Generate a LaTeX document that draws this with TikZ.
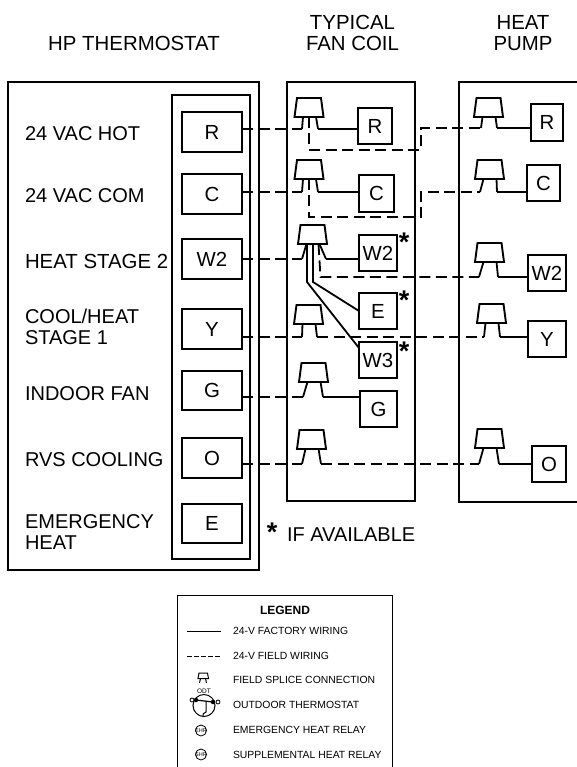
\documentclass[tikz,border=0pt]{standalone}
\usepackage{fontspec}
\setmainfont{Liberation Sans}
\newcommand{\fsz}[2][21]{\fontsize{#2}{#1}\selectfont}
\tikzset{
  x=1pt,y=-1pt,
  every node/.style={inner sep=0pt,outer sep=0pt},
  heavy/.style={line width=2pt},
  term/.style={draw,line width=1.9pt,anchor=north west,font=\fsz{20.4}},
  lab/.style={anchor=west,align=left,font=\fsz{20}},
  title/.style={align=center,font=\fsz{20.4}},
  solidw/.style={line width=1.8pt},
  fieldw/.style={line width=1.8pt,dash pattern=on 11pt off 5.5pt},
  star/.style={anchor=base,font=\fsz{27}\bfseries},
  leg/.style={anchor=west,font=\fsz{10.4}},
  thin/.style={line width=0.8pt},
  relay/.style={draw,circle,line width=0.8pt,minimum size=11pt,inner sep=-4pt,font=\fsz{5.5}},
}
% name, x centre, y top, x left leg end, x right leg end, y of wire
\newcommand{\spl}[6]{%
  \draw[line width=1.9pt,line join=miter] (#2-12,#3) -- (#2+12,#3) -- (#2+14.5,#3+19) -- (#2-14.5,#3+19) -- cycle;
  \coordinate (#1-l) at (#4,#6);
  \coordinate (#1-r) at (#5,#6);
  \coordinate (#1-b) at (#2,#3+19);
  \draw[solidw] (#2-6,#3+19) -- (#1-l);
  \draw[solidw] (#2+7,#3+19) -- (#1-r);
}
\newcommand{\term}[6]{\node[term,minimum width=#4-#2,minimum height=#5-#3] (#1) at (#2,#3) {#6};}
\begin{document}
\begin{tikzpicture}
\useasboundingbox[fill=white] (0,0) rectangle (577,767);
% titles
\node[title] (t1) at (134,43) {HP THERMOSTAT};
\node[title] (t2) at (352.5,33) {TYPICAL\\FAN COIL};
\node[title] (t3) at (523,33) {HEAT\\PUMP};
% panels
\draw[heavy] (8,82) rectangle (259,570);
\draw[heavy] (172,95) rectangle (250,559);
\draw[heavy] (287,82) rectangle (415,501);
\draw[heavy] (578,82) -- (459,82) -- (459,502) -- (578,502);
% thermostat labels
\node[lab] (l1) at (25,133.5) {24 VAC HOT};
\node[lab] (l2) at (25,195.5) {24 VAC COM};
\node[lab,font=\fsz{20.4}] (l3) at (25,261.5) {HEAT STAGE 2};
\node[lab] (l4) at (25,326.5) {COOL/HEAT\\STAGE 1};
\node[lab] (l5) at (25,393.5) {INDOOR FAN};
\node[lab] (l6) at (25,459.5) {RVS COOLING};
\node[lab] (l7) at (25,532.5) {EMERGENCY\\HEAT};
% thermostat terminals
\term{tR}{182}{112}{242}{152}{R}
\term{tC}{182}{174}{242}{214}{C}
\term{tW}{182}{239}{242}{279}{W2}
\term{tY}{182}{309}{242}{349}{Y}
\term{tG}{182}{371}{242}{410}{G}
\term{tO}{182}{438}{242}{478}{O}
\term{tE}{182}{504}{242}{543}{E}
% fan coil terminals
\term{fR}{358}{108}{392}{144}{R}
\term{fC}{359}{175}{394}{212}{C}
\term{fW}{359}{235}{397}{271}{W2}
\term{fE}{359}{293}{397}{329}{E}
\term{fT}{359}{342}{397}{378}{W3}
\term{fG}{360}{391}{397}{427}{G}
% heat pump terminals
\term{hR}{531}{104}{563}{141}{R}
\term{hC}{527}{165}{560}{201}{C}
\term{hW}{528}{255}{566}{291}{W2}
\term{hY}{528}{321}{566}{357}{Y}
\term{hO}{532}{446}{566}{482}{O}
% splices
\spl{sR}{309}{98}{302}{318}{129}
\spl{sC}{309}{160}{302}{318}{192}
\spl{sW}{312.5}{225}{302}{326}{259}
\spl{sY}{308.5}{305}{302}{317}{337}
\spl{sG}{313.5}{363}{303}{323}{397}
\spl{sO}{311.5}{430}{302}{321}{464}
\spl{pR}{488.5}{98}{481}{497}{128}
\spl{pC}{489.5}{160}{480}{497}{192}
\spl{pW}{489.5}{243}{479}{498}{277}
\spl{pY}{491.5}{304}{484}{500}{337}
\spl{pO}{489.5}{429}{479}{499}{464}
% field wiring
\draw[fieldw] (tR.east |- sR-l) -- (sR-l);
\draw[fieldw] (tC.east |- sC-l) -- (sC-l);
\draw[fieldw] (tW.east |- sW-l) -- (sW-l);
\draw[fieldw] (tY.east |- sY-l) -- (sY-l);
\draw[fieldw] (tG.east |- sG-l) -- (sG-l);
\draw[fieldw] (tO.east |- sO-l) -- (sO-l);
\draw[fieldw] (sY-r) -- (pY-l);
\draw[fieldw] (sO-r) -- (pO-l);
\coordinate (c1) at (421,150);
\coordinate (c2) at (421,217);
\draw[fieldw] (sR-b) -- (sR-b |- c1) -- (c1) -- (c1 |- pR-l) -- (pR-l);
\draw[fieldw] (sC-b) -- (sC-b |- c2) -- (c2) -- (c2 |- pC-l) -- (pC-l);
\coordinate (c3) at (320.5,277);
\draw[fieldw] (318.5,244) -- (c3) -- (pW-l);
% factory wiring
\draw[solidw] (sR-r) -- (fR.west |- sR-r);
\draw[solidw] (sC-r) -- (fC.west |- sC-r);
\draw[solidw] (sW-r) -- (fW.west |- sW-r);
\draw[solidw] (sG-r) -- (fG.west |- sG-r);
\draw[solidw] (pR-r) -- (hR.west |- pR-r);
\draw[solidw] (pC-r) -- (hC.west |- pC-r);
\draw[solidw] (pW-r) -- (hW.west |- pW-r);
\draw[solidw] (pY-r) -- (hY.west |- pY-r);
\draw[solidw] (pO-r) -- (hO.west |- pO-r);
\coordinate (k1) at (307,282);
\coordinate (k2) at (313,282);
\draw[solidw] (307,244) -- (k1) -- (fT.west |- 0,348);
\draw[solidw] (313,244) -- (k2) -- (fE.west);
% asterisks
\node[star] (a1) at (404,251) {*};
\node[star] (a2) at (404,309) {*};
\node[star] (a3) at (404,360) {*};
\node[star] (a4) at (272,541) {*};
\node[lab] (av) at (287,534.5) {IF AVAILABLE};
% legend
\draw[line width=1pt] (177,768) -- (177,595) -- (392,595) -- (392,768);
\node[font=\fsz{12}\bfseries] (lg) at (285,610) {LEGEND};
\coordinate (a) at (187,631); \coordinate (b) at (221,631);
\draw[thin] (a) -- (b);
\coordinate (c) at (187,656); \coordinate (d) at (222,656);
\draw[thin,dash pattern=on 4.5pt off 2.5pt] (c) -- (d);
\node[leg] (g1) at (233,631) {24-V FACTORY WIRING};
\node[leg] (g2) at (233,656) {24-V FIELD WIRING};
\node[leg] (g3) at (233,680) {FIELD SPLICE CONNECTION};
\node[leg] (g4) at (233,705) {OUTDOOR THERMOSTAT};
\node[leg] (g5) at (233,730) {EMERGENCY HEAT RELAY};
\node[leg] (g6) at (233,755) {SUPPLEMENTAL HEAT RELAY};
% legend symbols
\draw[line width=1pt] (199,673) -- (207.5,673) -- (208.5,678.5) -- (198,678.5) -- cycle;
\draw[line width=1pt] (200.5,678.5) -- (199.5,683);
\draw[line width=1pt] (205.5,678.5) -- (206.5,683);
\node[font=\fsz{6.5}] (odt) at (204,691) {ODT};
\node[draw,circle,line width=1pt,minimum size=22pt] (th) at (204,705.5) {};
\draw[line width=1.2pt] (196,700) -- (213,702);
\node[draw,circle,line width=0.8pt,fill=white,minimum size=4pt] (o1) at (192,700) {};
\node[draw,circle,line width=0.8pt,fill=white,minimum size=4pt] (o2) at (218,702) {};
\node[circle,fill,minimum size=4.5pt] (d1) at (196,700) {};
\node[circle,fill,minimum size=4.5pt] (d2) at (213,702) {};
\draw[line width=1pt] (206,701) -- (206,712) -- (203,714) -- (203,717);
\node[relay] (ehr) at (201,730.5) {EHR};
\node[relay] (shr) at (201,754.5) {SHR};
\end{tikzpicture}
\end{document}
